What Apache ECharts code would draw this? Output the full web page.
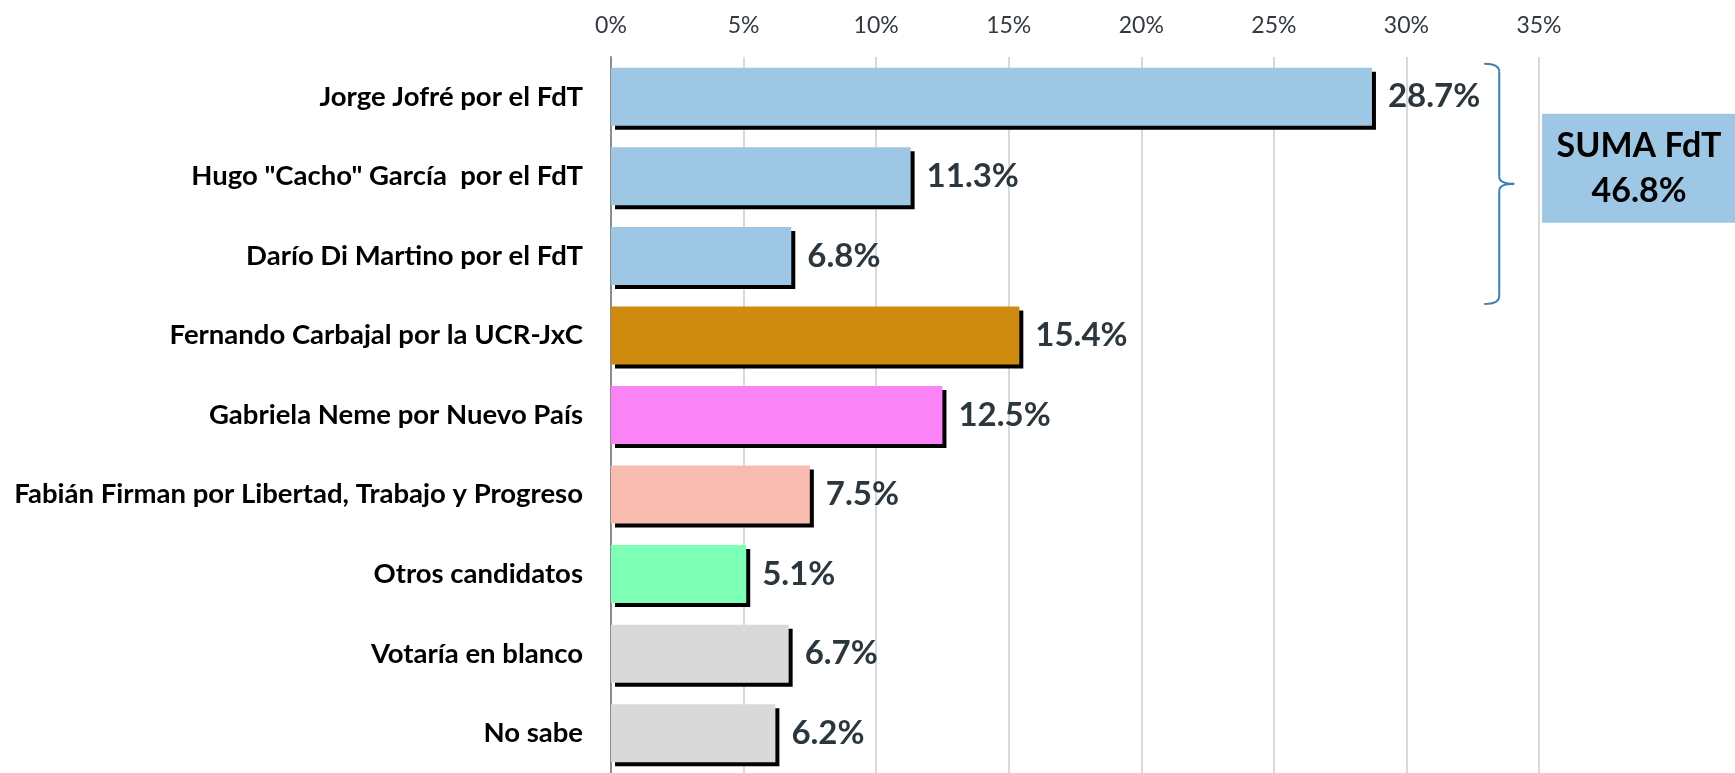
<!DOCTYPE html>
<html>
<head>
<meta charset="utf-8">
<script src="https://cdn.jsdelivr.net/npm/echarts@6/dist/echarts.min.js"></script>
<style>
  html, body { margin: 0; padding: 0; background: #fff; }
  #chart { width: 1735px; height: 773px; }
</style>
</head>
<body>
<div id="chart"></div>
<script>
// candidates, top to bottom
const categories = [
  'Jorge Jofré por el FdT',
  'Hugo "Cacho" García  por el FdT',
  'Darío Di Martino por el FdT',
  'Fernando Carbajal por la UCR-JxC',
  'Gabriela Neme por Nuevo País',
  'Fabián Firman por Libertad, Trabajo y Progreso',
  'Otros candidatos',
  'Votaría en blanco',
  'No sabe'
];
const values = [28.7, 11.3, 6.8, 15.4, 12.5, 7.5, 5.1, 6.7, 6.2];
const barColors = ['#9DC7E5', '#9DC7E5', '#9DC7E5', '#CE8B10', '#FA83F5', '#F7BBB0', '#7DFFB5', '#D9D9D9', '#D9D9D9'];
const xTicks = [0, 5, 10, 15, 20, 25, 30, 35];
const fdtCount = 3; // first three rows belong to the FdT

const font = 'Lato, "Open Sans", sans-serif';
const fdtSum = values.slice(0, fdtCount).reduce((a, b) => a + b, 0);

const chart = echarts.init(document.getElementById('chart'));

const option = {
  animation: false,
  grid: { left: 611, top: 57, width: 928, height: 718 },
  xAxis: {
    type: 'value',
    position: 'top',
    min: xTicks[0],
    max: xTicks[xTicks.length - 1],
    interval: 5,
    axisLine: { show: false },
    axisTick: { show: false },
    splitLine: { lineStyle: { color: '#D9D9D9', width: 2 } },
    axisLabel: {
      formatter: '{value}%',
      fontFamily: font,
      fontSize: 23,
      color: '#33393E',
      margin: 20
    }
  },
  yAxis: {
    type: 'category',
    inverse: true,
    data: categories,
    axisLine: { lineStyle: { color: '#8C8C8C', width: 2 } },
    axisTick: { length: 7, lineStyle: { color: '#8C8C8C', width: 2 } },
    axisLabel: {
      fontFamily: font,
      fontWeight: 'bold',
      fontSize: 27.5,
      color: '#000',
      margin: 28
    }
  },
  series: [{
    type: 'bar',
    barWidth: 58,
    data: values.map((v, i) => ({ value: v, itemStyle: { color: barColors[i] } })),
    itemStyle: {
      shadowColor: '#000',
      shadowOffsetX: 4,
      shadowOffsetY: 4,
      shadowBlur: 0
    },
    label: {
      show: true,
      position: 'right',
      distance: 16,
      formatter: p => p.value.toFixed(1) + '%',
      fontFamily: font,
      fontWeight: 'bold',
      fontSize: 33,
      color: '#2B363D'
    }
  }]
};
chart.setOption(option);

// brace around the FdT rows and the summary box
const braceX = chart.convertToPixel({ xAxisIndex: 0 }, 33.5);
const yFirst = chart.convertToPixel({ yAxisIndex: 0 }, categories[0]);
const yLast = chart.convertToPixel({ yAxisIndex: 0 }, categories[fdtCount - 1]);
const yTop = yFirst - 33;
const yBot = yLast + 48;
const yMid = (yTop + yBot) / 2;
const boxX = chart.convertToPixel({ xAxisIndex: 0 }, xTicks[xTicks.length - 1]) + 3;
const braceStyle = { stroke: '#3A80B8', lineWidth: 2, fill: null };

chart.setOption({
  graphic: [
    { type: 'bezierCurve', shape: { x1: braceX - 15, y1: yTop, cpx1: braceX, cpy1: yTop, x2: braceX, y2: yTop + 8 }, style: braceStyle },
    { type: 'line', shape: { x1: braceX, y1: yTop + 8, x2: braceX, y2: yMid - 7 }, style: braceStyle },
    { type: 'bezierCurve', shape: { x1: braceX, y1: yMid - 7, cpx1: braceX, cpy1: yMid, x2: braceX + 15, y2: yMid }, style: braceStyle },
    { type: 'bezierCurve', shape: { x1: braceX + 15, y1: yMid, cpx1: braceX, cpy1: yMid, x2: braceX, y2: yMid + 7 }, style: braceStyle },
    { type: 'line', shape: { x1: braceX, y1: yMid + 7, x2: braceX, y2: yBot - 8 }, style: braceStyle },
    { type: 'bezierCurve', shape: { x1: braceX, y1: yBot - 8, cpx1: braceX, cpy1: yBot, x2: braceX - 15, y2: yBot }, style: braceStyle },
    {
      type: 'rect',
      shape: { x: boxX, y: yMid - 70, width: 200, height: 109 },
      style: { fill: '#9DC7E5' }
    },
    {
      type: 'text',
      x: boxX + 97,
      y: yMid - 15,
      style: {
        text: 'SUMA FdT\n' + fdtSum.toFixed(1) + '%',
        fontFamily: font,
        fontWeight: 'bold',
        fontSize: 34,
        lineHeight: 45,
        fill: '#000',
        align: 'center',
        verticalAlign: 'middle'
      }
    }
  ]
});
</script>
</body>
</html>
